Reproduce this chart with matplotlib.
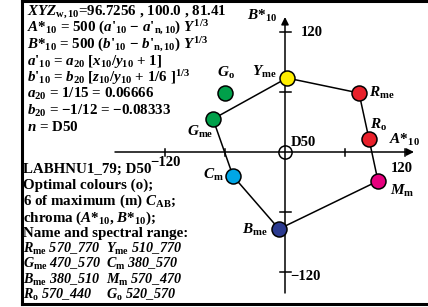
import matplotlib
matplotlib.use("Agg")
import matplotlib.pyplot as plt
from matplotlib.lines import Line2D

plt.rcParams['font.family'] = ['Liberation Serif', 'DejaVu Serif']
plt.rcParams['font.weight'] = 'bold'
plt.rcParams['mathtext.fontset'] = 'custom'
plt.rcParams['mathtext.rm'] = 'Liberation Serif:bold'
plt.rcParams['mathtext.it'] = 'Liberation Serif:italic:bold'
plt.rcParams['mathtext.bf'] = 'Liberation Serif:bold'
plt.rcParams['mathtext.default'] = 'it'

# ---- data ----
poly_names = ['Y_me', 'R_me', 'R_o', 'M_m', 'B_me', 'C_m', 'G_me']
poly_A = [2, 74, 84, 93, -6, -52, -72]
poly_B = [74, 59, 13, -29, -77, -24, 33]
poly_colors = ['#ffee00', '#e8202a', '#e8202a', '#e6007e', '#2b3a8f', '#00a6e6', '#00a04a']
go_A = [-60]
go_B = [59]
go_color = '#00a04a'
ticks = [-120, -60, 60, 120]
tick_labels = ['\u2212120', '120']

header_lines = [
    r"$XYZ_{\mathrm{w,10}}$=96.7256 , 100.0 , 81.41",
    r"$A$*$_{10}$ = 500 ($a$'$_{10}$ $-$ $a$'$_{\mathrm{n,10}}$) $Y^{1/3}$",
    r"$B$*$_{10}$ = 500 ($b$'$_{10}$ $-$ $b$'$_{\mathrm{n,10}}$) $Y^{1/3}$",
    r"$a$'$_{10}$ = $a_{20}$ [$x_{10}$/$y_{10}$ + 1]",
    r"$b$'$_{10}$ = $b_{20}$ [$z_{10}$/$y_{10}$ + 1/6 ]$^{1/3}$",
    r"$a_{20}$ = 1/15 = 0.06666",
    r"$b_{20}$ = $-$1/12 = $-$0.08333",
    r"$n$ = D50",
]
info_lines = [
    "LABHNU1_79; D50",
    "Optimal colours (o);",
    r"6 of maximum (m) $C_{\mathrm{AB}}$;",
    r"chroma ($A$*$_{10}$, $B$*$_{10}$);",
    "Name and spectral range:",
]
range_left = [r"$R_{\mathrm{me}}$ 570_770", r"$G_{\mathrm{me}}$ 470_570",
              r"$B_{\mathrm{me}}$ 380_510", r"$R_{\mathrm{o}}$ 570_440"]
range_right = [r"$Y_{\mathrm{me}}$ 510_770", r"$C_{\mathrm{m}}$ 380_570",
               r"$M_{\mathrm{m}}$ 570_470", r"$G_{\mathrm{o}}$ 520_570"]

# ---- figure ----
W, H = 428, 307
CX, CY = 285, 152
fig = plt.figure(figsize=(W / 100, H / 100), dpi=100)
ax = fig.add_axes([0, 0, 1, 1])
ax.set_xlim(-CX, W - CX)
ax.set_ylim(CY - H, CY)
ax.axis('off')


def P(px, py):
    return px - CX, CY - py


FS = 10.8   # text blocks
FR = 10.2   # range rows
FL = 11     # point labels
FT = 10.5   # tick labels
lw = 1.1

# frame
ax.add_line(Line2D([-CX + 21.5, -CX + 21.5], [CY - 304, CY - 0.5], color='k', lw=2.2))
ax.add_line(Line2D([-CX + 21.5, W - CX], [CY - 1, CY - 1], color='k', lw=2.2))
ax.add_line(Line2D([-CX + 21.5, W - CX], [CY - 304, CY - 304], color='k', lw=2.2))

# axes with arrows
ax.annotate('', xy=(129, 0), xytext=(-170, 0),
            arrowprops=dict(arrowstyle='-|>', lw=lw, color='k', shrinkA=0, shrinkB=0,
                            mutation_scale=11))
ax.annotate('', xy=(0, 135), xytext=(0, -141),
            arrowprops=dict(arrowstyle='-|>', lw=lw, color='k', shrinkA=0, shrinkB=0,
                            mutation_scale=11))
for t in ticks:
    ax.plot([t, t], [-3.5, 3.5], color='k', lw=lw)
    ax.plot([-5.5, 5.5], [t, t], color='k', lw=lw)

# tick labels
ax.text(16, 119, tick_labels[1], fontsize=FT, ha='left', va='center')
ax.text(117, -16, tick_labels[1], fontsize=FT, ha='center', va='center')
ax.text(5, -124, tick_labels[0], fontsize=FT, ha='left', va='center')
ax.text(-120, -11, tick_labels[0], fontsize=FT, ha='center', va='center')

# axis labels
ax.text(-8, 136, r"$B$*$_{10}$", fontsize=FL, ha='right', va='center')
ax.text(104, 12, r"$A$*$_{10}$", fontsize=FL, ha='left', va='center')

# D50 marker
ax.plot([0], [0], marker='o', ms=9.5, mfc='none', mec='k', mew=lw)
ax.text(6, 10, "D50", fontsize=FT, ha='left', va='center')

# polygon
ax.plot(poly_A + poly_A[:1], poly_B + poly_B[:1], color='k', lw=lw, zorder=3)
for a, b, c in zip(poly_A, poly_B, poly_colors):
    ax.plot([a], [b], marker='o', ms=10.8, mfc=c, mec='k', mew=1.1, zorder=4)
ax.plot(go_A, go_B, marker='o', ms=10.8, mfc=go_color, mec='k', mew=1.1, ls='none', zorder=4)

# point labels
lab = {
    'Y_me': (-8, 80, 'right', r"$Y_{\mathrm{me}}$"),
    'R_me': (84, 59, 'left', r"$R_{\mathrm{me}}$"),
    'R_o': (85, 27, 'left', r"$R_{\mathrm{o}}$"),
    'M_m': (105, -39, 'left', r"$M_{\mathrm{m}}$"),
    'B_me': (-17, -78, 'right', r"$B_{\mathrm{me}}$"),
    'C_m': (-61, -23, 'right', r"$C_{\mathrm{m}}$"),
    'G_me': (-72, 20, 'right', r"$G_{\mathrm{me}}$"),
}
for n in poly_names:
    x, y, ha, s = lab[n]
    ax.text(x, y, s, fontsize=FL, ha=ha, va='center')
ax.text(-59, 79, r"$G_{\mathrm{o}}$", fontsize=FL, ha='center', va='center')

# header text block
hy = [12, 28, 45, 62, 78, 94, 111, 127]
for s, y in zip(header_lines, hy):
    ax.text(*P(27, y), s, fontsize=FS, ha='left', va='center')

iy = [169, 185, 201, 218, 233]
for s, y in zip(info_lines, iy):
    ax.text(*P(23, y), s, fontsize=FS, ha='left', va='center')

ry = [249, 264, 280, 295]
for sl, sr, y in zip(range_left, range_right, ry):
    ax.text(*P(23, y), sl, fontsize=FR, ha='left', va='center', style='italic')
    ax.text(*P(106, y), sr, fontsize=FR, ha='left', va='center', style='italic')

fig.savefig('out.png', dpi=100)
